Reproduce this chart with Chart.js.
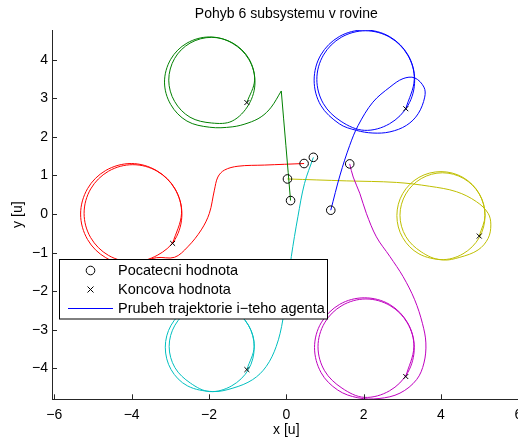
<!DOCTYPE html>
<html>
<head>
<meta charset="utf-8">
<script src="https://cdn.jsdelivr.net/npm/chart.js@4.4.0/dist/chart.umd.min.js"></script>
<style>
  html, body { margin: 0; padding: 0; background: #fff; overflow: hidden; }
  body { width: 518px; height: 442px; }
  canvas { display: block; }
</style>
</head>
<body>
<canvas id="chart" width="560" height="442"></canvas>
<script>
// trajektorie sesti agentu [x, y]
const greenRise = [[0.11, 0.35], [-0.13, 3.19]];
const greenTrack = [
  [-0.13, 3.19], [-0.39, 2.77], [-0.65, 2.52], [-0.99, 2.36], [-1.40, 2.26], [-1.98, 2.25],
  [-2.57, 2.41], [-2.99, 2.84], [-3.15, 3.42], [-2.99, 4.01], [-2.57, 4.43], [-1.98, 4.59],
  [-1.40, 4.43], [-0.97, 4.01], [-0.81, 3.42], [-0.97, 2.84], [-1.40, 2.41],
  [-1.93, 2.36], [-2.49, 2.51], [-2.89, 2.92], [-3.04, 3.47], [-2.89, 4.03], [-2.49, 4.43],
  [-1.93, 4.58], [-1.38, 4.43], [-0.97, 4.03], [-0.82, 3.47], [-1.02, 2.89]
];
const blueTrack = [
  [1.15, 0.10], [1.39, 1.01], [1.64, 1.78], [1.86, 2.30], [2.24, 2.90], [2.68, 3.29],
  [3.02, 3.51], [3.32, 3.53], [3.56, 3.29], [3.58, 3.03], [3.41, 2.60], [3.11, 2.30],
  [2.68, 2.13], [2.24, 2.10], [1.81, 2.17],
  [1.37, 2.34], [0.89, 2.82], [0.72, 3.47], [0.89, 4.12], [1.37, 4.60], [2.02, 4.77],
  [2.67, 4.60], [3.15, 4.12], [3.32, 3.47], [3.15, 2.82], [2.67, 2.34], [2.02, 2.17],
  [1.42, 2.40], [0.96, 2.86], [0.79, 3.49], [0.96, 4.12], [1.42, 4.58], [2.05, 4.75],
  [2.68, 4.58], [3.14, 4.12], [3.31, 3.49], [3.09, 2.73]
];
const redTrack = [
  [0.46, 1.31], [-0.56, 1.27], [-1.25, 1.24], [-1.60, 1.14], [-1.77, 0.96], [-1.86, 0.62],
  [-1.99, 0.02], [-2.20, -0.41], [-2.55, -0.85], [-2.89, -1.12],
  [-3.36, -1.13], [-4.01, -1.31], [-4.67, -1.13], [-5.14, -0.66], [-5.32, 0.00], [-5.14, 0.66],
  [-4.67, 1.13], [-4.01, 1.31], [-3.36, 1.13], [-2.88, 0.66], [-2.70, 0.00], [-2.88, -0.66],
  [-3.34, -1.07], [-3.97, -1.24], [-4.60, -1.07], [-5.06, -0.61], [-5.23, 0.02], [-5.06, 0.65],
  [-4.60, 1.11], [-3.97, 1.28], [-3.34, 1.11], [-2.88, 0.65], [-2.71, 0.02], [-2.94, -0.76]
];
const yellowTrack = [
  [0.03, 0.91], [1.55, 0.86], [2.85, 0.82], [3.71, 0.72], [4.40, 0.58], [4.92, 0.32],
  [5.22, 0.02], [5.29, -0.28], [5.22, -0.63], [4.96, -0.93], [4.49, -1.12], [4.06, -1.19],
  [3.43, -1.03], [3.01, -0.61], [2.86, -0.04], [3.01, 0.53], [3.43, 0.95], [4.00, 1.10],
  [4.57, 0.95], [4.99, 0.53], [5.14, -0.04], [4.99, -0.61], [4.57, -1.03], [4.00, -1.18],
  [3.49, -0.98], [3.09, -0.58], [2.94, -0.03], [3.09, 0.52], [3.49, 0.92], [4.04, 1.07],
  [4.59, 0.92], [4.99, 0.52], [5.14, -0.03], [4.99, -0.57]
];
const magentaTrack = [
  [1.64, 1.30], [1.73, 0.96], [1.90, 0.54], [2.07, 0.02], [2.33, -0.59], [2.68, -1.10],
  [3.02, -1.62], [3.32, -2.22], [3.52, -2.83], [3.61, -3.34], [3.56, -3.86], [3.37, -4.29],
  [2.94, -4.64], [2.40, -4.78], [1.85, -4.76],
  [1.33, -4.56], [0.90, -4.11], [0.73, -3.46], [0.90, -2.82], [1.38, -2.34], [2.02, -2.17],
  [2.67, -2.34], [3.14, -2.82], [3.31, -3.46], [3.14, -4.11], [2.67, -4.58], [2.02, -4.75],
  [1.44, -4.51], [0.99, -4.06], [0.82, -3.44], [0.99, -2.82], [1.44, -2.37], [2.06, -2.20],
  [2.68, -2.37], [3.13, -2.82], [3.30, -3.44], [3.09, -4.21]
];
const cyanTrack = [
  [0.70, 1.47], [0.47, 0.79], [0.30, -0.07], [0.13, -1.10], [-0.09, -2.74], [-0.26, -3.43],
  [-0.52, -3.95], [-0.87, -4.29], [-1.38, -4.51], [-1.90, -4.60],
  [-2.56, -4.45], [-2.98, -4.03], [-3.13, -3.45], [-2.98, -2.88], [-2.56, -2.45], [-1.98, -2.30],
  [-1.41, -2.45], [-0.98, -2.88], [-0.83, -3.45], [-0.98, -4.03], [-1.41, -4.45], [-1.98, -4.60],
  [-2.48, -4.38], [-2.88, -3.98], [-3.03, -3.43], [-2.88, -2.88], [-2.48, -2.48], [-1.93, -2.33],
  [-1.38, -2.48], [-0.98, -2.88], [-0.83, -3.43], [-1.02, -4.03]
];

const xTicks = [-6, -4, -2, 0, 2, 4, 6];
const yTicks = [-4, -3, -2, -1, 0, 1, 2, 3, 4];

const FONT = '"Liberation Sans", Arial, Helvetica, sans-serif';
const AXIS = '#262626';

const lines = [
  { pts: blueTrack, color: '#0000ff' },
  { pts: greenRise, color: '#008000' },
  { pts: greenTrack, color: '#008000' },
  { pts: redTrack, color: '#ff0000' },
  { pts: cyanTrack, color: '#00bfbf' },
  { pts: magentaTrack, color: '#bf00bf' },
  { pts: yellowTrack, color: '#bfbf00' },
];
const full = [greenRise.concat(greenTrack.slice(1)), blueTrack, redTrack, yellowTrack, magentaTrack, cyanTrack];
const startPts = full.map(t => t[0]);
const endPts = full.map(t => t[t.length - 1]);

const toXY = arr => arr.map(([x, y]) => ({ x, y }));
const minus = v => String(v).replace('-', '\u2212');

const datasets = lines.map(l => ({
  data: toXY(l.pts),
  showLine: true,
  borderColor: l.color,
  borderWidth: 1,
  pointRadius: 0,
  tension: 0.35,
  fill: false,
  order: 1,
}));
datasets.push({
  data: toXY(startPts), pointStyle: 'circle', pointRadius: 4.3,
  borderColor: '#000', borderWidth: 1, backgroundColor: 'rgba(0,0,0,0)', order: 0,
});
datasets.push({
  data: toXY(endPts), pointStyle: 'crossRot', pointRadius: 3.5,
  borderColor: '#000', borderWidth: 1, order: 0,
});

// popisky, dovnitr smerujici tiky a legenda
const decor = {
  id: 'decor',
  afterDraw(chart) {
    const ctx = chart.ctx, a = chart.chartArea;
    const xs = chart.scales.x, ys = chart.scales.y;
    ctx.save();
    ctx.strokeStyle = AXIS;
    ctx.lineWidth = 1;
    ctx.beginPath();
    xTicks.forEach(v => {
      const px = Math.round(xs.getPixelForValue(v)) + 0.5;
      ctx.moveTo(px, a.bottom); ctx.lineTo(px, a.bottom - 5);
    });
    yTicks.forEach(v => {
      const py = Math.round(ys.getPixelForValue(v)) + 0.5;
      ctx.moveTo(a.left, py); ctx.lineTo(a.left + 5, py);
    });
    ctx.stroke();

    ctx.fillStyle = '#000';
    ctx.font = '14px ' + FONT;
    ctx.textAlign = 'center';
    ctx.textBaseline = 'middle';
    const cx = (a.left + a.right) / 2;
    ctx.fillText('Pohyb 6 subsystemu v rovine', cx, 14.5);
    ctx.fillText('x [u]', cx, 430.5);
    ctx.save();
    ctx.translate(18, (a.top + a.bottom) / 2);
    ctx.rotate(-Math.PI / 2);
    ctx.fillText('y [u]', 0, 0);
    ctx.restore();

    // legenda
    const L = 59.5, T = 259.5, W = 268, H = 59.5;
    ctx.fillStyle = '#fff';
    ctx.fillRect(L, T, W, H);
    ctx.strokeStyle = '#000';
    ctx.strokeRect(L, T, W, H);
    ctx.beginPath();
    ctx.arc(90.5, 270.5, 4.3, 0, Math.PI * 2);
    ctx.stroke();
    ctx.beginPath();
    ctx.moveTo(87.5, 286.5); ctx.lineTo(93.5, 292.5);
    ctx.moveTo(93.5, 286.5); ctx.lineTo(87.5, 292.5);
    ctx.stroke();
    ctx.strokeStyle = '#0000ff';
    ctx.beginPath();
    ctx.moveTo(68, 308.5); ctx.lineTo(113, 308.5);
    ctx.stroke();
    ctx.fillStyle = '#000';
    ctx.textAlign = 'left';
    ctx.font = '14.5px ' + FONT;
    ctx.fillText('Pocatecni hodnota', 118, 270.5);
    ctx.fillText('Koncova hodnota', 118, 289.5);
    ctx.fillText('Prubeh trajektorie i\u2212teho agenta', 118, 308.5);
    ctx.restore();
  }
};

new Chart(document.getElementById('chart').getContext('2d'), {
  type: 'scatter',
  data: { datasets },
  options: {
    responsive: false,
    animation: false,
    devicePixelRatio: 1,
    layout: { autoPadding: false, padding: { top: 30, right: 39.4, bottom: 0, left: 0 } },
    plugins: { legend: { display: false }, tooltip: { enabled: false }, title: { display: false } },
    scales: {
      x: {
        type: 'linear',
        min: -6.06,
        max: 6.06,
        afterFit: s => { s.height = 42.7; },
        afterBuildTicks: s => { s.ticks = xTicks.map(value => ({ value })); },
        ticks: { padding: 7, color: '#000', maxRotation: 0, font: { family: FONT, size: 14 }, callback: minus },
        grid: { drawOnChartArea: false, drawTicks: false },
        border: { color: AXIS, width: 1 },
      },
      y: {
        type: 'linear',
        min: -4.8,
        max: 4.77,
        afterFit: s => { s.width = 52; },
        afterBuildTicks: s => { s.ticks = yTicks.map(value => ({ value })); },
        ticks: { padding: 4, color: '#000', font: { family: FONT, size: 14 }, callback: minus },
        grid: { drawOnChartArea: false, drawTicks: false },
        border: { color: AXIS, width: 1 },
      },
    },
  },
  plugins: [decor],
});
</script>
</body>
</html>
